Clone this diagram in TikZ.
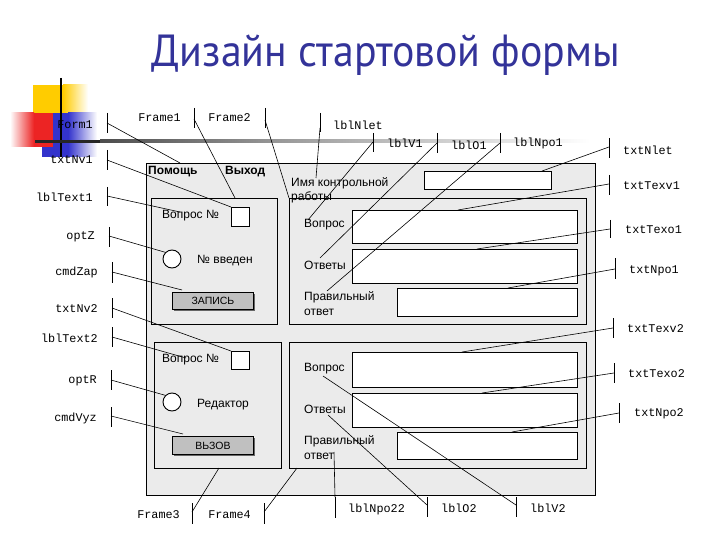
\documentclass[tikz,border=0pt]{standalone}
\usepackage{fontspec}
\setmainfont{Liberation Sans}
\newfontfamily\monof{Liberation Mono}
\newfontfamily\titlef{PT Sans}
\usetikzlibrary{shadows}
\definecolor{formgray}{RGB}{235,235,235}
\definecolor{titleblue}{RGB}{51,51,153}
\definecolor{btngray}{RGB}{192,192,192}
\definecolor{decoyellow}{RGB}{255,204,0}
\definecolor{decored}{RGB}{236,36,36}
\definecolor{decoblue}{RGB}{51,51,204}
\begin{document}
\begin{tikzpicture}[x=1pt,y=-1pt,
  lbl/.style={font=\monof\fontsize{11.8}{13}\selectfont, inner sep=0pt},
  ui/.style={font=\fontsize{12}{15}\selectfont, inner sep=0pt, anchor=west, align=left},
  uibold/.style={font=\bfseries\fontsize{12}{15}\selectfont, inner sep=0pt, anchor=west},
  panel/.style={draw=black, line width=1.1pt, fill=formgray, anchor=north west, inner sep=0pt},
  tbox/.style={draw=black, line width=1.1pt, fill=white, anchor=north west, inner sep=0pt},
  btn/.style={draw=black, line width=0.9pt, fill=btngray, anchor=north west, inner sep=0pt,
     font=\fontsize{10.5}{12}\selectfont,
     drop shadow={shadow xshift=2pt, shadow yshift=-2pt, fill=black!60, opacity=1}},
  radio/.style={draw=black, line width=0.9pt, fill=white, circle, minimum size=18pt, inner sep=0pt},
  tickline/.style={line width=0.9pt},
  conn/.style={line width=0.6pt}]
\useasboundingbox (0,0) rectangle (720,540);

% decoration
\fill[decoyellow] (33,85) rectangle (63,142);
\shade[left color=decoyellow,right color=white] (63,85) rectangle (88,142);
\fill[decoblue] (42,113) rectangle (68,157);
\shade[left color=decoblue,right color=white] (68,113) rectangle (97,157);
\shade[left color=white,right color=decored] (10,113) rectangle (34,147);
\fill[decored] (34,113) rectangle (53,147);
\draw[line width=2.5pt] (61,78) -- (61,157);
\fill[black!85] (35,140) rectangle (100,143);
\shade[left color=black!70,right color=black!40] (100,140) rectangle (280,143);
\shade[left color=black!40,right color=white] (280,140) rectangle (590,143);

% title
\node[font=\titlef\fontsize{45}{48}\selectfont, text=titleblue, anchor=base, inner sep=0pt] (title) at (386,67) {\scalebox{0.93}[1]{Дизайн стартовой формы}};

% form
\node[panel, minimum width=449pt, minimum height=332pt] (form) at (146,163) {};
\node[uibold] (menuHelp) at (148,172) {Помощь};
\node[uibold] (menuExit) at (225,172) {Выход};
\node[panel, minimum width=126pt, minimum height=126pt] (frameA) at (151,198) {};
\node[panel, minimum width=297pt, minimum height=126pt] (frameB) at (289,198) {};
\node[panel, minimum width=127pt, minimum height=126pt] (frameC) at (154,342) {};
\node[panel, minimum width=297pt, minimum height=126pt] (frameD) at (289,342) {};

% frame 1 content
\node[ui] (q1no) at (162,216) {Вопрос №};
\node[tbox, minimum width=18pt, minimum height=19pt] (chk1) at (231,207) {};
\node[radio] (radio1) at (172,259) {};
\node[ui] (entered) at (197,261) {№ введен};
\node[btn, minimum width=81pt, minimum height=17pt] (btn1) at (172,292) {ЗАПИСЬ};

% frame 3 content
\node[ui] (q2no) at (162,360) {Вопрос №};
\node[tbox, minimum width=18pt, minimum height=18pt] (chk2) at (231,351) {};
\node[radio] (radio2) at (172,402) {};
\node[ui] (editor) at (197,405) {Редактор};
\node[btn, minimum width=81pt, minimum height=18pt] (btn2) at (172,436) {ВЬЗОВ};

% right upper
\node[ui, font=\fontsize{12}{14}\selectfont] (workname) at (291,190) {Имя контрольной\\работы};
\node[tbox, minimum width=127pt, minimum height=18pt] (tbNlet) at (424,171) {};
\node[ui] (q1) at (304,225) {Вопрос};
\node[tbox, minimum width=225pt, minimum height=33pt] (tbQ1) at (352,210) {};
\node[ui] (a1) at (304,265) {Ответы};
\node[tbox, minimum width=225pt, minimum height=34pt] (tbA1) at (352,249) {};
\node[ui] (c1) at (304,304) {Правильный\\ответ};
\node[tbox, minimum width=180pt, minimum height=28pt] (tbC1) at (397,288) {};

% right lower
\node[ui] (q2) at (304,369) {Вопрос};
\node[tbox, minimum width=225pt, minimum height=35pt] (tbQ2) at (352,352) {};
\node[ui] (a2) at (304,409) {Ответы};
\node[tbox, minimum width=225pt, minimum height=34pt] (tbA2) at (352,393) {};
\node[ui] (c2) at (304,448) {Правильный\\ответ};
\node[tbox, minimum width=180pt, minimum height=27pt] (tbC2) at (397,432) {};

% connector targets
\coordinate (tForm1) at (180,163);
\coordinate (tFrame1) at (235,198);
\coordinate (tText1) at (180,212);
\coordinate (tZap) at (182,290);
\coordinate (tText2) at (186,358);
\coordinate (tVyz) at (183,434);
\coordinate (tFrame3) at (219,468);
\coordinate (tFrame4) at (297,468);
\coordinate (tNlet) at (316,178);
\coordinate (tV1) at (308,220);
\coordinate (tO1) at (320,258);
\coordinate (tNpo1) at (327,291);
\coordinate (tTxtNlet) at (542,171);
\coordinate (tTexv1) at (458,210);
\coordinate (tTexo1) at (477,249);
\coordinate (tTxtNpo1) at (508,288);
\coordinate (tTexv2) at (462,352);
\coordinate (tTexo2) at (482,393);
\coordinate (tTxtNpo2) at (512,432);
\coordinate (tNpo22) at (334,452);
\coordinate (tO2) at (328,415);
\coordinate (tV2) at (323,376);

% callouts
\foreach \nm/\txt/\anc/\tx/\ty/\kx/\ka/\kb/\ky/\tgt in {
  Form1/Form1/east/93/125/107/113/133/123/tForm1,
  Frame1/Frame1/east/181/118/194/108/128/119/tFrame1,
  Frame2/Frame2/east/251/118/265/108/128/120/frameB.north west,
  txtNv1/txtNv1/east/93/160/107/150/170/160/chk1.north west,
  lblText1/lblText1/east/93/197/107/187/206/196/tText1,
  optZ/optZ/east/95/237/109/227/247/236/radio1.135,
  cmdZap/cmdZap/east/98/272/112/262/283/272/tZap,
  txtNv2/txtNv2/east/98/309/112/298/318/308/chk2.north west,
  lblText2/lblText2/east/98/338/112/327/347/337/tText2,
  optR/optR/east/97/381/111/370/390/380/radio2.135,
  cmdVyz/cmdVyz/east/97/418/111/407/427/416/tVyz,
  Frame3/Frame3/east/180/515/192/503/524/512/tFrame3,
  Frame4/Frame4/east/251/515/264/503/524/512/tFrame4,
  lblNlet/lblNlet/west/333/125/320/113/132/128/tNlet,
  lblV1/lblV1/west/387/143/373/133/152/142/tV1,
  lblO1/lblO1/west/451/145/437/133/153/143/tO1,
  lblNpo1/lblNpo1/west/513/143/500/133/153/143/tNpo1,
  txtNlet/txtNlet/west/623/150/609/138/158/147/tTxtNlet,
  txtTexv1/txtTexv1/west/623/186/609/175/195/184/tTexv1,
  txtTexo1/txtTexo1/west/625/230/610/220/238/229/tTexo1,
  txtNpo1/txtNpo1/west/629/271/615/258/279/269/tTxtNpo1,
  txtTexv2/txtTexv2/west/627/329/613/318/338/328/tTexv2,
  txtTexo2/txtTexo2/west/628/374/614/363/383/373/tTexo2,
  txtNpo2/txtNpo2/west/634/414/619/403/423/413/tTxtNpo2,
  lblNpo22/lblNpo22/west/348/509/335/497/518/497/tNpo22,
  lblO2/lblO2/west/441/508/427/497/517/505/tO2,
  lblV2/lblV2/west/530/508/516/497/517/505/tV2}{
  \node[lbl, anchor=\anc] (l\nm) at (\tx,\ty) {\txt};
  \coordinate (ka\nm) at (\kx,\ka);
  \coordinate (kb\nm) at (\kx,\kb);
  \coordinate (k\nm) at (\kx,\ky);
  \draw[tickline] (ka\nm) -- (kb\nm);
  \draw[conn] (k\nm) -- (\tgt);
}
\end{tikzpicture}
\end{document}
